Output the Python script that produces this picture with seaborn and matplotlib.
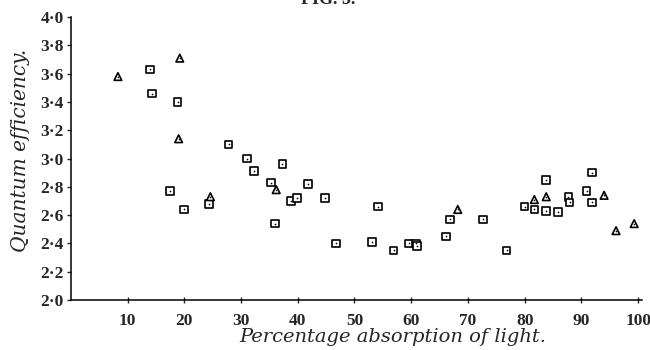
import matplotlib.pyplot as plt
import matplotlib.ticker as mticker
import pandas as pd
import seaborn as sns

# open squares
SQ_X = [13.9, 14.3, 18.8, 17.5, 19.9, 24.3, 27.8, 31.1, 32.3, 37.3, 35.3, 41.8,
        38.8, 39.9, 44.8, 36.0, 54.1, 46.7, 53.1, 56.9, 59.6, 60.8, 61.0,
        66.8, 66.1, 72.6, 76.8, 80.0, 81.7, 83.8, 83.8, 85.9, 87.7, 87.9,
        90.9, 91.9, 91.9]
SQ_Y = [3.63, 3.46, 3.40, 2.77, 2.64, 2.68, 3.10, 3.00, 2.91, 2.96, 2.83, 2.82,
        2.70, 2.72, 2.72, 2.54, 2.66, 2.40, 2.41, 2.35, 2.40, 2.40, 2.38,
        2.57, 2.45, 2.57, 2.35, 2.66, 2.64, 2.85, 2.63, 2.62, 2.73, 2.69,
        2.77, 2.90, 2.69]

# open triangles
TRI_X = [8.3, 19.2, 19.0, 24.6, 36.2, 68.2, 81.7, 83.8, 94.0, 96.1, 99.3]
TRI_Y = [3.58, 3.71, 3.14, 2.73, 2.78, 2.64, 2.71, 2.73, 2.74, 2.49, 2.54]

X_TICKS = [10, 20, 30, 40, 50, 60, 70, 80, 90, 100]
Y_TICKS = [2.0, 2.2, 2.4, 2.6, 2.8, 3.0, 3.2, 3.4, 3.6, 3.8, 4.0]

sns.set_theme(style="ticks")
plt.rcParams["font.family"] = ["Liberation Serif", "DejaVu Serif"]

df = pd.concat([
    pd.DataFrame({"x": SQ_X, "y": SQ_Y, "kind": "square"}),
    pd.DataFrame({"x": TRI_X, "y": TRI_Y, "kind": "triangle"}),
], ignore_index=True)

fig = plt.figure(figsize=(6.5, 3.5), dpi=100)
ax = fig.add_axes([0.109, 0.143, 0.878, 0.808])

sns.scatterplot(
    data=df, x="x", y="y", style="kind",
    markers={"square": "s", "triangle": "^"},
    s=30, color="white", edgecolor="black", linewidth=1.2,
    legend=False, ax=ax, zorder=3,
)
# small dot in the middle of every mark
sns.scatterplot(data=df, x="x", y="y", s=1.5, color="black",
                linewidth=0, legend=False, ax=ax, zorder=4)

ax.set_xlim(0, 100.6)
ax.set_ylim(2.0, 4.0)
ax.set_xticks(X_TICKS)
ax.set_yticks(Y_TICKS)
ax.yaxis.set_major_formatter(
    mticker.FuncFormatter(lambda v, _: f"{v:.1f}".replace(".", "\u00b7")))
ax.tick_params(axis="x", direction="inout", length=5, width=1, pad=7,
               labelsize=12.5)
ax.tick_params(axis="y", direction="out", length=3, width=1, pad=2,
               labelsize=12.5)
for lab in ax.get_xticklabels() + ax.get_yticklabels():
    lab.set_fontweight("bold")

for side in ["top", "right"]:
    ax.spines[side].set_visible(False)
for side in ["left", "bottom"]:
    ax.spines[side].set_color("black")
    ax.spines[side].set_linewidth(1.1)

ax.set_xlabel("Percentage absorption of light.", fontsize=14,
              fontstyle="italic", family=["DejaVu Serif"])
ax.set_ylabel("Quantum efficiency.", fontsize=14.5, fontstyle="italic",
              family=["DejaVu Serif"])
ax.xaxis.set_label_coords(0.565, -0.098)
ax.yaxis.set_label_coords(-0.072, 0.53)

fig.text(0.505, 1.0, "FIG. 5.", ha="center", va="center", fontsize=13,
         fontweight="bold")

fig.savefig("out.png", dpi=100)
